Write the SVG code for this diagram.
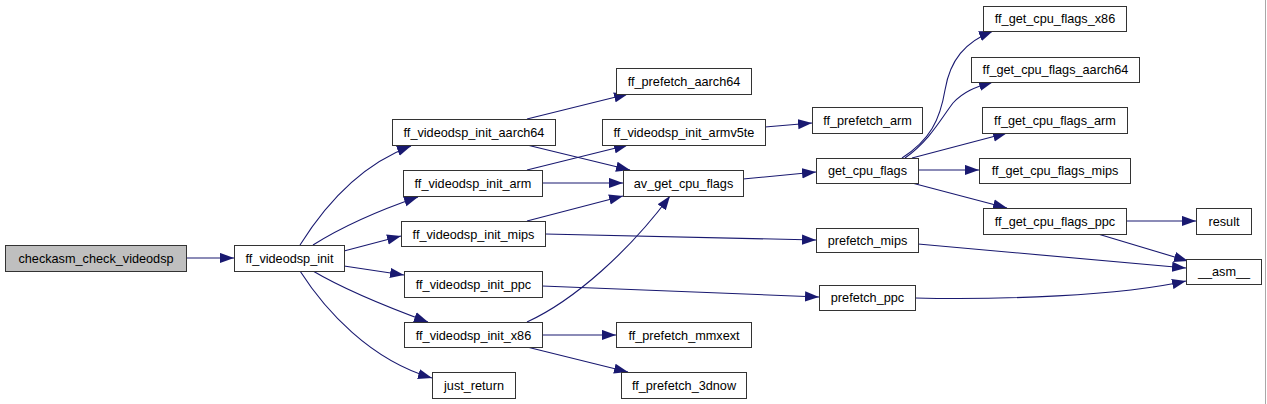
<svg xmlns="http://www.w3.org/2000/svg" width="1267" height="404" viewBox="0 0 1267 404">
<style>
.n rect{fill:#ffffff;stroke:#333333;stroke-width:1}
.n text{font-family:"Liberation Sans",Arial,sans-serif;font-size:12.7px;fill:#000000;text-anchor:middle}
.e path{fill:none;stroke:#191970;stroke-width:1.1;marker-end:url(#ah)}
</style>
<defs>
<marker id="ah" markerUnits="userSpaceOnUse" markerWidth="14" markerHeight="11" viewBox="0 0 13 9.5" refX="13" refY="4.75" orient="auto">
<path d="M0,0 L13,4.75 L0,9.5 z" fill="#191970" stroke="none"/>
</marker>
</defs>
<rect x="0" y="0" width="1267" height="404" fill="#ffffff"/>
<line x1="1265.5" y1="0" x2="1265.5" y2="404" stroke="#a8a8a8" stroke-width="1"/>
<g id="edges" class="e">
<path d="M186,258 L234,258"/>
<path d="M300,245 C325,205 360,165 411,146"/>
<path d="M313,245 C340,228 380,210 418,197"/>
<path d="M344,251 L401,236"/>
<path d="M344,266 L404,275"/>
<path d="M313,271 C345,290 390,308 428,322"/>
<path d="M300,271 C325,310 370,360 432,378"/>
<path d="M527,119 L628,94"/>
<path d="M527,145 L630,170"/>
<path d="M527,170 L628,145"/>
<path d="M542,183 L623,183"/>
<path d="M527,221 L623,196"/>
<path d="M545,234 L816,240"/>
<path d="M542,286 L819,297"/>
<path d="M527,322 C575,300 630,250 670,196"/>
<path d="M542,335 L616,335"/>
<path d="M527,347 L628,372"/>
<path d="M765,127 L812,123"/>
<path d="M743,179 L816,172"/>
<path d="M902,158 C930,140 940,120 945,90 C950,60 965,42 993,31"/>
<path d="M905,158 C930,140 940,120 953,103 C963,92 975,87 993,82"/>
<path d="M912,158 L1007,133"/>
<path d="M918,170 L979,170"/>
<path d="M912,183 L1007,208"/>
<path d="M1126,221 L1196,221"/>
<path d="M1098,234 L1188,261"/>
<path d="M918,244 L1186,268"/>
<path d="M915,298 C1000,300 1120,296 1186,281"/>
</g>
<g id="checkasm_check_videodsp" class="n"><rect x="5.5" y="245.5" width="181" height="26" style="fill:#bfbfbf"/><text x="96" y="262.5">checkasm_check_videodsp</text></g>
<g id="ff_videodsp_init" class="n"><rect x="234.5" y="245.5" width="110" height="26"/><text x="289.5" y="262.5">ff_videodsp_init</text></g>
<g id="ff_videodsp_init_aarch64" class="n"><rect x="392.5" y="119.5" width="163" height="26"/><text x="474" y="136.5">ff_videodsp_init_aarch64</text></g>
<g id="ff_videodsp_init_arm" class="n"><rect x="403.5" y="170.5" width="139" height="26"/><text x="473" y="187.5">ff_videodsp_init_arm</text></g>
<g id="ff_videodsp_init_mips" class="n"><rect x="401.5" y="221.5" width="144" height="25"/><text x="473.5" y="238.5">ff_videodsp_init_mips</text></g>
<g id="ff_videodsp_init_ppc" class="n"><rect x="404.5" y="271.5" width="138" height="26"/><text x="473.5" y="288.5">ff_videodsp_init_ppc</text></g>
<g id="ff_videodsp_init_x86" class="n"><rect x="404.5" y="322.5" width="138" height="25"/><text x="473.5" y="339.5">ff_videodsp_init_x86</text></g>
<g id="just_return" class="n"><rect x="432.5" y="372.5" width="83" height="26"/><text x="474" y="389.5">just_return</text></g>
<g id="ff_prefetch_aarch64" class="n"><rect x="616.5" y="68.5" width="135" height="26"/><text x="684" y="85.5">ff_prefetch_aarch64</text></g>
<g id="ff_videodsp_init_armv5te" class="n"><rect x="602.5" y="119.5" width="163" height="26"/><text x="684" y="136.5">ff_videodsp_init_armv5te</text></g>
<g id="av_get_cpu_flags" class="n"><rect x="623.5" y="170.5" width="120" height="26"/><text x="683.5" y="187.5">av_get_cpu_flags</text></g>
<g id="ff_prefetch_mmxext" class="n"><rect x="616.5" y="322.5" width="135" height="25"/><text x="684" y="339.5">ff_prefetch_mmxext</text></g>
<g id="ff_prefetch_3dnow" class="n"><rect x="621.5" y="372.5" width="125" height="26"/><text x="684" y="389.5">ff_prefetch_3dnow</text></g>
<g id="ff_prefetch_arm" class="n"><rect x="812.5" y="107.5" width="110" height="26"/><text x="867.5" y="124.5">ff_prefetch_arm</text></g>
<g id="get_cpu_flags" class="n"><rect x="816.5" y="158.5" width="102" height="25"/><text x="867.5" y="175">get_cpu_flags</text></g>
<g id="prefetch_mips" class="n"><rect x="816.5" y="228.5" width="102" height="24"/><text x="867.5" y="245">prefetch_mips</text></g>
<g id="prefetch_ppc" class="n"><rect x="819.5" y="285.5" width="96" height="25"/><text x="867.5" y="302">prefetch_ppc</text></g>
<g id="ff_get_cpu_flags_x86" class="n"><rect x="983.5" y="6.5" width="143" height="25"/><text x="1055" y="23">ff_get_cpu_flags_x86</text></g>
<g id="ff_get_cpu_flags_aarch64" class="n"><rect x="971.5" y="57.5" width="168" height="25"/><text x="1055.5" y="74">ff_get_cpu_flags_aarch64</text></g>
<g id="ff_get_cpu_flags_arm" class="n"><rect x="982.5" y="107.5" width="145" height="26"/><text x="1055" y="124.5">ff_get_cpu_flags_arm</text></g>
<g id="ff_get_cpu_flags_mips" class="n"><rect x="979.5" y="158.5" width="151" height="25"/><text x="1055" y="175">ff_get_cpu_flags_mips</text></g>
<g id="ff_get_cpu_flags_ppc" class="n"><rect x="983.5" y="208.5" width="143" height="26"/><text x="1055" y="225.5">ff_get_cpu_flags_ppc</text></g>
<g id="result" class="n"><rect x="1196.5" y="208.5" width="55" height="26"/><text x="1224" y="225.5">result</text></g>
<g id="__asm__" class="n"><rect x="1186.5" y="259.5" width="75" height="25"/><text x="1224" y="276">__asm__</text></g>
</svg>
